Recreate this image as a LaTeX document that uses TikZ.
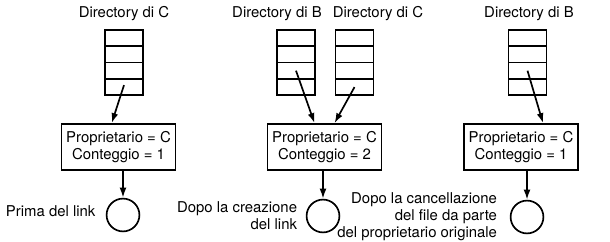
\documentclass[tikz,border=0pt]{standalone}
\usepackage{fontspec}
\setmainfont{TeX Gyre Heros}
\usetikzlibrary{matrix,arrows.meta,positioning}

\begin{document}
\begin{tikzpicture}[x=0.025cm, y=-0.025cm, line width=1.2pt, >={Latex[length=2.5mm, width=1.7mm]},
	every node/.style={font=\fontsize{10.6}{12.2}\selectfont},
	dir/.style={matrix of nodes, nodes in empty cells, nodes={draw, minimum width=0.95cm, minimum height=0.41cm, inner sep=0pt}, row sep=-\pgflinewidth},
	inode/.style={draw, minimum width=2.85cm, minimum height=1.15cm, align=center, inner sep=1pt},
	file/.style={draw, circle, minimum size=0.82cm, inner sep=0pt}]
	\useasboundingbox (0,0) rectangle (610,242);
	% prima del link
	\matrix (dC1) [dir] at (124,62.5) { \\ \\ \\ \\ };
	\node (lC1) at (124,14) {Directory di C};
	\node (pC1) [inode] at (118.5,147) {Proprietario = C\\Conteggio = 1};
	\node (f1) [file] at (123,215) {};
	\draw[->] ([yshift=0.05cm]dC1-4-1.center) -- ([xshift=-0.17cm]pC1.north);
	\draw[->] (pC1.south -| f1.north) -- (f1.north);
	\node (t1) [left=0.12cm of f1, yshift=0.1cm] {Prima del link};
	% dopo la creazione del link
	\matrix (dB2) [dir] at (296,62.5) { \\ \\ \\ \\ };
	\matrix (dC2) [dir] at (354.5,62.5) { \\ \\ \\ \\ };
	\node (lB2) at (277,14) {Directory di B};
	\node (lC2) at (378,14) {Directory di C};
	\node (pC2) [inode] at (324.5,147) {Proprietario = C\\Conteggio = 2};
	\node (f2) [file] at (323,216) {};
	\draw[->] (dB2-3-1.center) -- ([xshift=-0.25cm]pC2.north);
	\draw[->] (dC2-4-1.center) -- ([xshift=0.25cm]pC2.north);
	\draw[->] (pC2.south -| f2.north) -- (f2.north);
	\node (t2) [left=0.08cm of f2, align=right] {Dopo la creazione\\del link};
	% dopo la cancellazione
	\matrix (dB3) [dir] at (527.5,62.5) { \\ \\ \\ \\ };
	\node (lB3) at (529,14) {Directory di B};
	\node (pC3) [inode] at (521,147) {Proprietario = C\\Conteggio = 1};
	\node (f3) [file] at (527,217) {};
	\draw[->] (dB3-3-1.center) -- ([xshift=0.55cm]pC3.north);
	\draw[->] (pC3.south -| f3.north) -- (f3.north);
	\node (t3) [left=0.18cm of f3, align=right] {Dopo la cancellazione\\del file da parte\\del proprietario originale};
\end{tikzpicture}
\end{document}
